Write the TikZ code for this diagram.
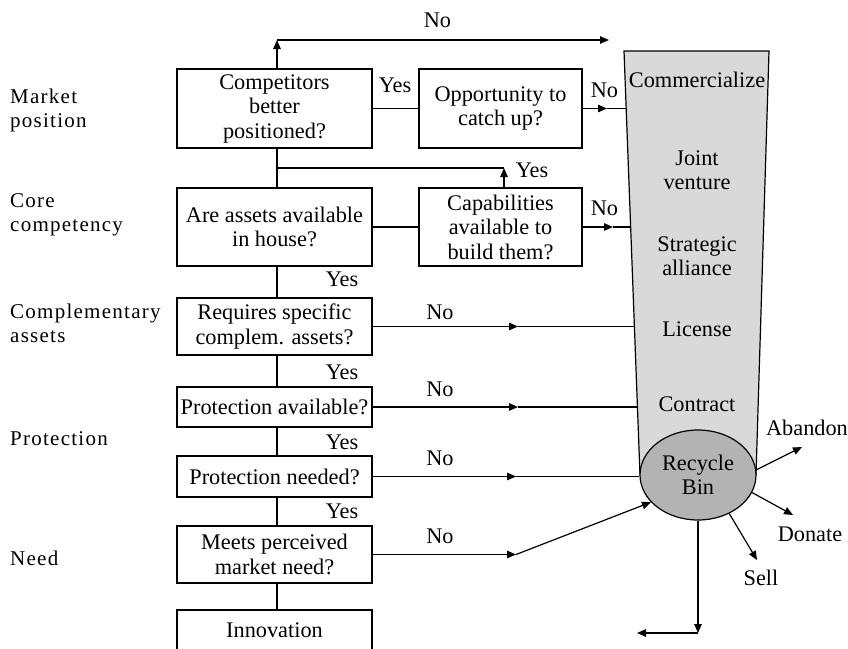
\documentclass[tikz,border=0pt]{standalone}
\usepackage{fontspec}
\setmainfont{Liberation Serif}
\newfontfamily\sidefont[LetterSpace=6]{Liberation Serif}
\usetikzlibrary{arrows.meta,shapes.geometric,calc}
\definecolor{funnelgray}{HTML}{D9D9D9}
\definecolor{bingray}{HTML}{B3B3B3}
\begin{document}
\begin{tikzpicture}[x=1pt,y=-1pt,
  every node/.style={font=\fontsize{22.3}{24.5}\selectfont, inner sep=0pt},
  line/.style={line width=1.2pt},
  arr/.style={line width=1.2pt,-{Triangle[length=9pt,width=7.5pt]}},
  box/.style={draw, line width=1.2pt, align=center, fill=white},
  wide/.style={minimum width=195pt},
  narrow/.style={minimum width=163pt},
  bin/.style={ellipse, draw, line width=1.2pt, fill=bingray, align=center, minimum width=116pt, minimum height=90pt},
  side/.style={font=\sidefont\fontsize{21}{24}\selectfont, align=left, anchor=west}
]
\useasboundingbox (0,0) rectangle (848,648);

% funnel
\coordinate (ftl) at (624,51);
\coordinate (ftr) at (769,51);
\coordinate (fbl) at (640,475);
\coordinate (fbr) at (756,475);
\fill[funnelgray] (ftl) -- (ftr) -- (fbr) -- (fbl) -- cycle;
\draw[line] (fbl) -- (ftl) -- (ftr) -- (fbr);
\node[bin] (bin) at (698,475) {Recycle\\Bin};

\node (fc1) at (697,80) {Commercialize};
\node[align=center] (fc2) at (697,170) {Joint\\venture};
\node[align=center] (fc3) at (697,256) {Strategic\\alliance};
\node (fc4) at (697,329) {License};
\node (fc5) at (697,404) {Contract};

% left labels
\node[side] (s1) at (10,110) {Market\\position};
\node[side] (s2) at (10,215) {Core\\competency};
\node[side] (s3) at (10,323) {Complementary\\assets};
\node[side] (s4) at (10,439) {Protection};
\node[side] (s5) at (10,558) {Need};

% boxes
\node[box,wide,minimum height=79pt] (b1) at (274.5,108.5) {Competitors\\better\\positioned?};
\node[box,narrow,minimum height=79pt] (b2) at (500.5,108.5) {Opportunity to\\catch up?};
\node[box,wide,minimum height=78pt] (b3) at (274.5,227) {Are assets available\\in house?};
\node[box,narrow,minimum height=78pt] (b4) at (500.5,227) {Capabilities\\available to\\build them?};
\node[box,wide,minimum height=57pt] (b5) at (274.5,326.5) {Requires specific\\complem. assets?};
\node[box,wide,minimum height=40pt] (b6) at (274.5,407) {Protection available?};
\node[box,wide,minimum height=41pt] (b7) at (274.5,476.5) {Protection needed?};
\node[box,wide,minimum height=57pt] (b8) at (274.5,554.5) {Meets perceived\\market need?};
\node[box,wide,minimum height=40pt] (b9) at (274.5,630) {Innovation};

% spine
\coordinate (spine) at (277,0);
\draw[line] (b1.south -| spine) -- (b3.north -| spine);
\draw[line] (b3.south -| spine) -- (b5.north -| spine);
\draw[line] (b5.south -| spine) -- (b6.north -| spine);
\draw[line] (b6.south -| spine) -- (b7.north -| spine);
\draw[line] (b7.south -| spine) -- (b8.north -| spine);
\draw[line] (b8.south -| spine) -- (b9.north -| spine);

% top No arrow
\coordinate (t1) at (277,40);
\coordinate (t2) at (609,40);
\draw[arr] (b1.north -| t1) -- (t1);
\draw[arr] (t1) -- (t2);
\node (lt) at (437.5,20) {No};

% row 1
\draw[line] (b1.east) -- (b2.west);
\node (y12) at (395,85) {Yes};
\coordinate (a2) at (607,108.5);
\coordinate (h2) at (626.2,108.5);
\draw[arr] (b2.east) -- (a2);
\draw[line] (a2) -- (h2);
\node (n2) at (604.5,90) {No};

% row 2
\draw[line] (b3.east) -- (b4.west);
\coordinate (j1) at (277,168);
\coordinate (j2) at (504,168);
\draw[line] (j1) -- (j2);
\draw[arr] (b4.north -| j2) -- (j2);
\node (y4) at (532,170) {Yes};
\coordinate (a4) at (613,227);
\coordinate (h4) at (630.7,227);
\draw[arr] (b4.east) -- (a4);
\draw[line] (a4) -- (h4);
\node (n4) at (604.5,208) {No};

% spine yes labels
\node (ys1) at (342,279) {Yes};
\node (ys2) at (342,372) {Yes};
\node (ys3) at (342,442) {Yes};
\node (ys4) at (342,511) {Yes};

% rows 5-8
\coordinate (a5) at (518,326.5);
\coordinate (h5) at (634.3,326.5);
\draw[arr] (b5.east) -- (a5);
\draw[line] (a5) -- (h5);
\node (n5) at (440,312) {No};

\coordinate (a6) at (518,407);
\coordinate (h6) at (637.4,407);
\draw[arr] (b6.east) -- (a6);
\draw[line] (a6) -- (h6);
\node (n6) at (440,389) {No};

\coordinate (a7) at (516,476.5);
\draw[arr] (b7.east) -- (a7);
\draw[line] (a7) -- (a7 -| bin.west);
\node (n7) at (440,458) {No};

\coordinate (a8) at (516,554.5);
\draw[arr] (b8.east) -- (a8);
\draw[arr] (a8) -- (bin.210);
\node (n8) at (440,536) {No};

% outputs of bin
\coordinate (eab) at (802,447);
\coordinate (edo) at (793,515);
\coordinate (ese) at (757,560);
\coordinate (ed1) at (698,633);
\coordinate (ed2) at (637,633);
\draw[arr] (bin.5) -- (eab);
\draw[arr] (bin.-18) -- (edo);
\draw[arr] (bin.-51) -- (ese);
\draw[arr] (bin.south) -- (ed1);
\draw[arr] (ed1) -- (ed2);
\node (lab) at (807,428) {Abandon};
\node (ldo) at (810,534) {Donate};
\node (lse) at (761,578) {Sell};
\end{tikzpicture}
\end{document}
